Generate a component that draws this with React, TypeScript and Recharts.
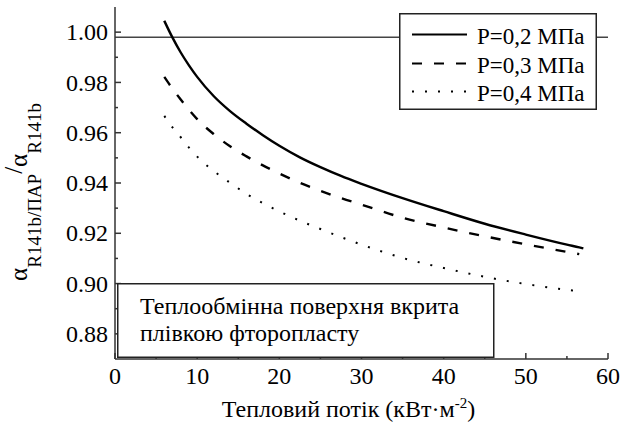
import React from "react";
import { LineChart, Line, XAxis, YAxis, ReferenceLine, Legend } from "recharts";

// heat flux, kW/m2
const heatFlux = [6, 7, 8, 9, 10, 12, 14, 16, 18, 20, 22.5, 25, 27.5, 30, 35, 40, 45, 50, 55, 56.5, 57];
// alpha ratio for each pressure
const alphaP02 = [1.0045, 0.9978, 0.9919, 0.9868, 0.9822, 0.9746, 0.9686, 0.9636, 0.959, 0.9548, 0.9502, 0.9463, 0.9428, 0.9397, 0.934, 0.9288, 0.9238, 0.9195, 0.9155, 0.9144, 0.914];
const alphaP03 = [0.9822, 0.9775, 0.9732, 0.9691, 0.9654, 0.9595, 0.9546, 0.9506, 0.947, 0.9438, 0.9401, 0.9369, 0.934, 0.9314, 0.9262, 0.9223, 0.9188, 0.9156, 0.9126, 0.9117, null];
const alphaP04 = [0.9667, 0.9621, 0.9582, 0.9541, 0.9505, 0.9448, 0.9401, 0.9357, 0.932, 0.9287, 0.925, 0.9217, 0.9185, 0.9155, 0.9102, 0.9062, 0.9027, 0.8998, 0.8975, 0.8969, null];
const seriesNames = ["P=0,2 МПа", "P=0,3 МПа", "P=0,4 МПа"];
const xTicks = [0, 5, 10, 15, 20, 25, 30, 35, 40, 45, 50, 55, 60];
const yTicks = [0.88, 0.89, 0.9, 0.91, 0.92, 0.93, 0.94, 0.95, 0.96, 0.97, 0.98, 0.99, 1.0];
const refLevel = 0.998;
const noteLines = ["Теплообмінна поверхня вкрита", "плівкою фторопласту"];

const rows = heatFlux.map((q, i) => ({ q, p02: alphaP02[i], p03: alphaP03[i], p04: alphaP04[i] }));

const FONT = "Liberation Serif, DejaVu Serif, serif";
const AXIS = "#333";
const dashes = [undefined, "10 12", "2 11"];

const isMajorX = (v) => v % 10 === 0;
const isMajorY = (v) => Math.round(v * 100) % 2 === 0;

function BottomTick({ x, y, payload }) {
  const v = payload.value;
  const len = isMajorX(v) ? 6 : 3;
  return (
    <g>
      <line x1={x} x2={x} y1={y} y2={y - len} stroke={AXIS} strokeWidth={1.5} />
      {isMajorX(v) && (
        <text x={x} y={y + 25} textAnchor="middle" fontSize={24} style={{ fontFamily: FONT }} fill="#000">
          {v}
        </text>
      )}
    </g>
  );
}

function TopTick({ x, y, payload }) {
  const len = isMajorX(payload.value) ? 6 : 3;
  return <line x1={x} x2={x} y1={y} y2={y + len} stroke={AXIS} strokeWidth={1.5} />;
}

function LeftTick({ x, y, payload }) {
  const v = payload.value;
  const len = isMajorY(v) ? 6 : 3;
  return (
    <g>
      <line x1={x} x2={x + len} y1={y} y2={y} stroke={AXIS} strokeWidth={1.5} />
      {isMajorY(v) && (
        <text x={x - 7} y={y} dy="0.34em" textAnchor="end" fontSize={24} style={{ fontFamily: FONT }} fill="#000">
          {v.toFixed(2)}
        </text>
      )}
    </g>
  );
}

function RightTick({ x, y, payload }) {
  const len = isMajorY(payload.value) ? 6 : 3;
  return <line x1={x} x2={x - len} y1={y} y2={y} stroke={AXIS} strokeWidth={1.5} />;
}

function XTitle({ viewBox }) {
  const cx = viewBox.x + viewBox.width / 2 - 13;
  return (
    <text x={cx} y={417} textAnchor="middle" fontSize={24} style={{ fontFamily: FONT }} fill="#000">
      Тепловий потік (кВт·м
      <tspan dy={-9} fontSize={15}>-2</tspan>
      <tspan dy={9}>)</tspan>
    </text>
  );
}

function YTitle() {
  return (
    <text transform="translate(27, 192) rotate(-90)" textAnchor="middle" fontSize={25} style={{ fontFamily: FONT }} fill="#000">
      α
      <tspan dy={14} fontSize={19}>R141b/ПАР</tspan>
      <tspan dy={-19}>/</tspan>
      <tspan dy={5}>α</tspan>
      <tspan dy={14} fontSize={19}>R141b</tspan>
    </text>
  );
}

function LegendBox() {
  const baselines = [30.5, 59.5, 87.5];
  return (
    <svg width={198} height={97} style={{ display: "block" }}>
      <rect x={0.75} y={0.75} width={196.5} height={95.5} fill="#fff" stroke="#222" strokeWidth={1.5} />
      {seriesNames.map((name, i) => (
        <g key={name}>
          <line
            x1={13}
            x2={68}
            y1={baselines[i] - 9}
            y2={baselines[i] - 9}
            stroke="#000"
            strokeWidth={2.2}
            strokeDasharray={dashes[i]}
          />
          <text x={78} y={baselines[i]} fontSize={23} style={{ fontFamily: FONT }} fill="#000">
            {name}
          </text>
        </g>
      ))}
    </svg>
  );
}

function NoteBox() {
  return (
    <svg
      width={378}
      height={75}
      style={{ position: "absolute", left: 117, top: 283, display: "block" }}
    >
      <rect x={0.75} y={0.75} width={376} height={73.5} fill="#fff" stroke="#222" strokeWidth={1.5} />
      {noteLines.map((t, i) => (
        <text key={t} x={23} y={30.5 + i * 27.3} fontSize={24} style={{ fontFamily: FONT }} fill="#000">
          {t}
        </text>
      ))}
    </svg>
  );
}

export default function App() {
  return (
    <div style={{ position: "absolute", left: 0, top: 0, width: 630, height: 434, background: "#fff", fontFamily: FONT }}>
      <LineChart width={630} height={434} data={rows} margin={{ top: 7, right: 22, bottom: 0, left: 0 }}>
        <XAxis
          dataKey="q"
          type="number"
          domain={[0, 60]}
          ticks={xTicks}
          interval={0}
          height={75}
          tickSize={0}
          tickMargin={0}
          tickLine={false}
          axisLine={{ stroke: AXIS, strokeWidth: 1.5 }}
          tick={BottomTick}
          label={{ content: XTitle }}
        />
        <XAxis
          xAxisId="top"
          orientation="top"
          dataKey="q"
          type="number"
          domain={[0, 60]}
          ticks={xTicks}
          interval={0}
          height={0}
          tickSize={0}
          tickMargin={0}
          tickLine={false}
          axisLine={{ stroke: AXIS, strokeWidth: 1.5 }}
          tick={TopTick}
        />
        <YAxis
          type="number"
          domain={[0.87, 1.01]}
          ticks={yTicks}
          interval={0}
          width={115}
          tickSize={0}
          tickMargin={0}
          tickLine={false}
          axisLine={{ stroke: AXIS, strokeWidth: 1.5 }}
          tick={LeftTick}
          label={{ content: YTitle }}
        />
        <YAxis
          yAxisId="right"
          orientation="right"
          type="number"
          domain={[0.87, 1.01]}
          ticks={yTicks}
          interval={0}
          width={0}
          tickSize={0}
          tickMargin={0}
          tickLine={false}
          axisLine={{ stroke: AXIS, strokeWidth: 1.5 }}
          tick={RightTick}
        />
        <ReferenceLine y={refLevel} stroke="#444" strokeWidth={1.5} />
        <Line type="monotone" dataKey="p02" name={seriesNames[0]} stroke="#000" strokeWidth={2.4} dot={false} isAnimationActive={false} />
        <Line type="monotone" dataKey="p03" name={seriesNames[1]} stroke="#000" strokeWidth={2.4} strokeDasharray={dashes[1]} dot={false} isAnimationActive={false} />
        <Line type="monotone" dataKey="p04" name={seriesNames[2]} stroke="#000" strokeWidth={2} strokeDasharray={dashes[2]} dot={false} isAnimationActive={false} />
        <Legend
          layout="vertical"
          align="center"
          verticalAlign="middle"
          wrapperStyle={{ left: 399, top: 13, width: 198, height: 97 }}
          content={() => <LegendBox />}
        />
      </LineChart>
      <NoteBox />
    </div>
  );
}
